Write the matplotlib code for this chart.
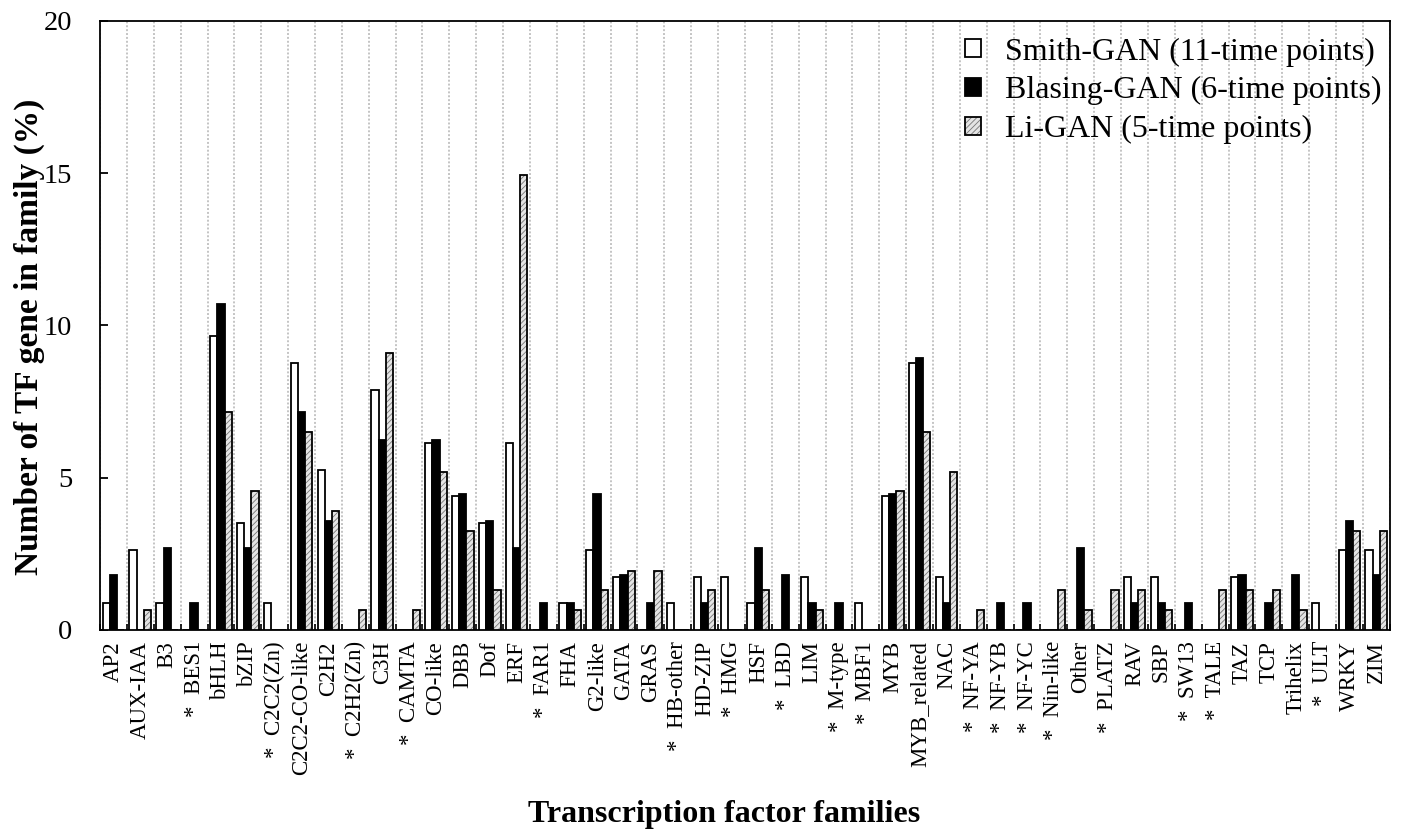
import matplotlib
matplotlib.use("Agg")
import matplotlib.pyplot as plt
from matplotlib.patches import Patch
from matplotlib.legend_handler import HandlerTuple
import numpy as np

plt.rcParams['font.family'] = ['Liberation Serif', 'DejaVu Serif']
plt.rcParams['hatch.linewidth'] = 0.6

families = [
    'AP2', 'AUX-IAA', 'B3', 'BES1', 'bHLH', 'bZIP', 'C2C2(Zn)', 'C2C2-CO-like',
    'C2H2', 'C2H2(Zn)', 'C3H', 'CAMTA', 'CO-like', 'DBB', 'Dof', 'ERF',
    'FAR1', 'FHA', 'G2-like', 'GATA', 'GRAS', 'HB-other', 'HD-ZIP', 'HMG',
    'HSF', 'LBD', 'LIM', 'M-type', 'MBF1', 'MYB', 'MYB_related', 'NAC',
    'NF-YA', 'NF-YB', 'NF-YC', 'Nin-like', 'Other', 'PLATZ', 'RAV', 'SBP',
    'SW13', 'TALE', 'TAZ', 'TCP', 'Trihelix', 'ULT', 'WRKY', 'ZIM',
]

# families marked with an asterisk on the axis
starred = {
    'BES1', 'C2C2(Zn)', 'C2H2(Zn)', 'CAMTA', 'FAR1', 'HB-other', 'HMG', 'LBD',
    'M-type', 'MBF1', 'NF-YA', 'NF-YB', 'NF-YC', 'Nin-like', 'PLATZ', 'SW13',
    'TALE', 'ULT',
}

smith = [
    0.88, 2.63, 0.88, 0.00, 9.65, 3.51, 0.88, 8.77,
    5.26, 0.00, 7.89, 0.00, 6.14, 4.39, 3.51, 6.14,
    0.00, 0.88, 2.63, 1.75, 0.00, 0.88, 1.75, 1.75,
    0.88, 0.00, 1.75, 0.00, 0.88, 4.39, 8.77, 1.75,
    0.00, 0.00, 0.00, 0.00, 0.00, 0.00, 1.75, 1.75,
    0.00, 0.00, 1.75, 0.00, 0.00, 0.88, 2.63, 2.63,
]

blasing = [
    1.79, 0.00, 2.68, 0.89, 10.71, 2.68, 0.00, 7.14,
    3.57, 0.00, 6.25, 0.00, 6.25, 4.46, 3.57, 2.68,
    0.89, 0.89, 4.46, 1.79, 0.89, 0.00, 0.89, 0.00,
    2.68, 1.79, 0.89, 0.89, 0.00, 4.46, 8.93, 0.89,
    0.00, 0.89, 0.89, 0.00, 2.68, 0.00, 0.89, 0.89,
    0.89, 0.00, 1.79, 0.89, 1.79, 0.00, 3.57, 1.79,
]

li = [
    0.00, 0.65, 0.00, 0.00, 7.14, 4.55, 0.00, 6.49,
    3.90, 0.65, 9.09, 0.65, 5.19, 3.25, 1.30, 14.94,
    0.00, 0.65, 1.30, 1.95, 1.95, 0.00, 1.30, 0.00,
    1.30, 0.00, 0.65, 0.00, 0.00, 4.55, 6.49, 5.19,
    0.65, 0.00, 0.00, 1.30, 0.65, 1.30, 1.30, 0.65,
    0.00, 1.30, 1.30, 1.30, 0.65, 0.00, 3.25, 3.25,
]

series_names = [
    'Smith-GAN (11-time points)',
    'Blasing-GAN (6-time points)',
    'Li-GAN (5-time points)',
]

x = np.arange(len(families))
w = 0.27
lw = 1.3

fig = plt.figure(figsize=(14.01, 8.30), dpi=100)
ax = fig.add_axes([0.0714, 0.241, 0.9206, 0.734])

ax.bar(x - w, smith, w, color='white', edgecolor='black', linewidth=lw, zorder=3)
ax.bar(x, blasing, w, color='black', edgecolor='black', linewidth=lw, zorder=3)
# hatched fill first, then a plain black outline on top
ax.bar(x + w, li, w, color='#e4e4e4', edgecolor='#767676', hatch='//////',
       linewidth=0, zorder=3)
ax.bar(x + w, li, w, color='none', edgecolor='black', linewidth=lw, zorder=4)

ax.set_xlim(-0.5, len(families) - 0.5)
ax.set_ylim(0, 20)
ax.set_yticks([0, 5, 10, 15, 20])

labels = [('*  ' + f) if f in starred else f for f in families]
ax.set_xticks(x)
ax.set_xticklabels(labels, rotation=90, fontsize=16.5)
ax.set_xticks(np.arange(len(families) + 1) - 0.5, minor=True)
ax.tick_params(axis='x', which='major', length=0, pad=8)
ax.tick_params(axis='x', which='minor', direction='in', length=4, width=1.2)
ax.tick_params(axis='y', direction='in', length=6, width=1.3, pad=20,
               labelsize=20.5)

ax.grid(axis='x', which='minor', color='#c4c4c4', linestyle=(0, (1, 1)),
        linewidth=1.4)
ax.set_axisbelow(True)

for s in ax.spines.values():
    s.set_linewidth(1.3)

ax.set_ylabel('Number of TF gene in family (%)', fontsize=24,
              fontweight='bold')
ax.yaxis.set_label_coords(-0.043, 0.481)
ax.set_xlabel('Transcription factor families', fontsize=23,
              fontweight='bold', va='top')
ax.xaxis.set_label_coords(0.4837, -0.279)

h_smith = Patch(facecolor='white', edgecolor='black', linewidth=lw)
h_blasing = Patch(facecolor='black', edgecolor='black', linewidth=lw)
h_li = (Patch(facecolor='#e4e4e4', edgecolor='#767676', hatch='//////', linewidth=0),
        Patch(facecolor='none', edgecolor='black', linewidth=lw))
ax.legend([h_smith, h_blasing, h_li], series_names,
          handler_map={tuple: HandlerTuple(ndivide=1, pad=0)},
          loc='upper right', bbox_to_anchor=(1.011, 1.009), frameon=False,
          fontsize=23, handlelength=0.5, handleheight=0.5, handletextpad=0.75,
          labelspacing=0.3, borderaxespad=0.3)

fig.savefig('out.png', dpi=100)
